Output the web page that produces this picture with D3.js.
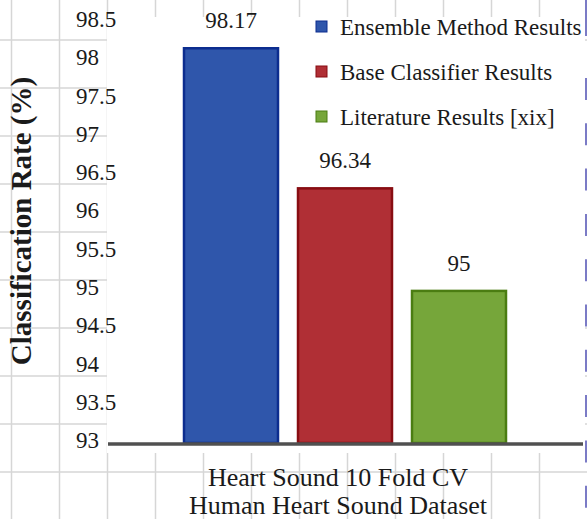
<!DOCTYPE html>
<html>
<head>
<meta charset="utf-8">
<script src="https://cdn.jsdelivr.net/npm/d3@7"></script>
<style>
  html, body { margin: 0; padding: 0; background: #fff; }
  svg { display: block; }
</style>
</head>
<body>
<svg id="chart" width="587" height="519"></svg>
<script>
// Classification rates for the heart sound experiment
const series = ["Ensemble Method Results", "Base Classifier Results", "Literature Results [xix]"];
const values = [98.17, 96.34, 95];
const colors = ["#2f56ab", "#b02f35", "#76a63a"];
const edgeColors = ["#0c2d8f", "#880d12", "#4b7d12"];
const yTicks = [93, 93.5, 94, 94.5, 95, 95.5, 96, 96.5, 97, 97.5, 98, 98.5];
const categoryLines = ["Heart Sound 10 Fold CV", "Human Heart Sound Dataset"];
const yTitle = "Classification Rate (%)";

const W = 587, H = 519;
const SERIF = "'Liberation Serif', 'DejaVu Serif', serif";
const svg = d3.select("#chart")
  .attr("font-family", SERIF)
  .style("font-family", SERIF);

// Worksheet cell grid behind the chart
const grid = svg.append("g").attr("stroke", "#d6d6d6").attr("stroke-width", 1.5);
d3.range(11.5, W, 48).forEach(x => {
  grid.append("line").attr("x1", x).attr("x2", x).attr("y1", 0).attr("y2", H);
});
d3.range(40, H, 48).forEach(y => {
  grid.append("line").attr("x1", 0).attr("x2", W).attr("y1", y).attr("y2", y);
});

// White plot area
svg.append("rect").attr("x", 107).attr("y", 17).attr("width", 478).attr("height", 436).attr("fill", "#fff");

// Page-break marker along the right edge
const edge = svg.append("g").attr("stroke", "#7b7bc6").attr("stroke-width", 2);
edge.append("line").attr("x1", 586).attr("x2", 586).attr("y1", 0).attr("y2", 36);
d3.range(78, H, 45.3).forEach(y0 => {
  edge.append("line").attr("x1", 586).attr("x2", 586).attr("y1", y0).attr("y2", y0 + 22);
});

// Scales
const y = d3.scaleLinear().domain([93, 98.5]).range([443, 22]);
const x = d3.scaleBand().domain(series).range([174, 516]).paddingInner(0.158).paddingOuter(0.079);

function label(sel) {
  return sel.attr("font-family", SERIF).style("font-family", SERIF).attr("fill", "#1a1a1a");
}

// Y tick labels (left-aligned column)
svg.append("g").selectAll("text").data(yTicks).join("text")
  .call(label)
  .attr("x", 76)
  .attr("y", d => y(d) - 3)
  .attr("dy", "0.35em")
  .attr("font-size", 23)
  .text(d => String(d));

// Y axis title
svg.append("text")
  .call(label)
  .attr("transform", "translate(31,221) rotate(-90)")
  .attr("text-anchor", "middle")
  .attr("font-size", 29)
  .attr("font-weight", "bold")
  .text(yTitle);

// Bars
svg.append("g").selectAll("rect").data(values).join("rect")
  .attr("x", (d, i) => x(series[i]) + 1)
  .attr("y", d => y(d) + 1)
  .attr("width", x.bandwidth() - 2)
  .attr("height", d => y(93) - y(d) - 1)
  .attr("fill", (d, i) => colors[i])
  .attr("stroke", (d, i) => edgeColors[i])
  .attr("stroke-width", 2.5);

// Value labels
svg.append("g").selectAll("text").data(values).join("text")
  .call(label)
  .attr("x", (d, i) => x(series[i]) + x.bandwidth() / 2)
  .attr("y", d => y(d) - 27)
  .attr("dy", "0.35em")
  .attr("text-anchor", "middle")
  .attr("font-size", 23)
  .text(d => String(d));

// Baseline
svg.append("line")
  .attr("x1", 108).attr("x2", 583)
  .attr("y1", y(93) + 1).attr("y2", y(93) + 1)
  .attr("stroke", "#505050").attr("stroke-width", 3.5);

// Category label
svg.append("g").selectAll("text").data(categoryLines).join("text")
  .call(label)
  .attr("x", 338)
  .attr("y", (d, i) => 477 + i * 28)
  .attr("dy", "0.35em")
  .attr("text-anchor", "middle")
  .attr("font-size", 26)
  .text(d => d);

// Legend
const legend = svg.append("g").selectAll("g").data(series).join("g")
  .attr("transform", (d, i) => `translate(316,${27 + i * 45})`);
legend.append("rect")
  .attr("x", 0).attr("y", -6).attr("width", 11).attr("height", 11)
  .attr("fill", (d, i) => colors[i])
  .attr("stroke", (d, i) => edgeColors[i]).attr("stroke-width", 1);
legend.append("text")
  .call(label)
  .attr("x", 24).attr("y", 0).attr("dy", "0.35em")
  .attr("font-size", 23)
  .text(d => d);
</script>
</body>
</html>
